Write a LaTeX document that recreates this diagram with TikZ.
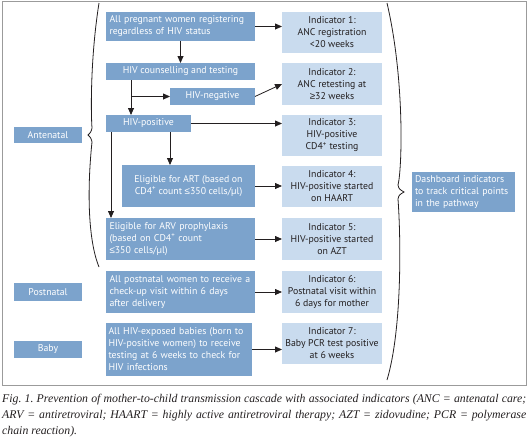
\documentclass[tikz,border=0pt]{standalone}
\usepackage{fontspec}
\setmainfont{Liberation Serif}
\newfontfamily\boxfont{PT Sans}
\newfontfamily\relfont{Liberation Sans}
\newcommand{\myle}{{\relfont ≤}}
\newcommand{\myge}{{\relfont ≥}}
\usetikzlibrary{arrows.meta}
\definecolor{darkbox}{RGB}{124,163,204}
\definecolor{lightbox}{RGB}{201,219,238}
\definecolor{ink}{RGB}{35,31,32}
\definecolor{framegray}{RGB}{155,155,155}
\frenchspacing
\begin{document}
\begin{tikzpicture}[x=1pt,y=-1pt,
  boxbase/.style={font=\boxfont\fontsize{9.8}{12}\selectfont, inner sep=0pt, outer sep=0pt},
  dark/.style={boxbase, fill=darkbox, text=white},
  light/.style={boxbase, fill=lightbox, text=ink, align=center, minimum width=100pt},
  arr/.style={draw=ink, line width=0.8pt, -{Triangle[length=7pt,width=6pt]}},
  bracestyle/.style={draw=ink, line width=0.8pt}]
\useasboundingbox (0,0) rectangle (528,442);
\draw[framegray, line width=0.9pt] (2,1) rectangle (526,385);

% left column labels
\node[dark, minimum width=68pt, minimum height=16pt] (ant) at (48,135) {Antenatal};
\node[dark, minimum width=68pt, minimum height=18pt] (pnl) at (48,292) {Postnatal};
\node[dark, minimum width=68pt, minimum height=17pt] (bbl) at (48,349.5) {Baby};

% cascade boxes
\node[dark, minimum width=149pt, minimum height=29pt, text width=142pt, align=left] (b1) at (180.5,26.5) {All pregnant women registering\\regardless of HIV status};
\node[dark, minimum width=149pt, minimum height=17pt] (b2) at (180.5,71.5) {HIV counselling and testing};
\node[dark, minimum width=85pt, minimum height=17pt] (neg) at (212.5,96.5) {HIV-negative};
\node[dark, minimum width=85pt, minimum height=17pt] (pos) at (148.5,123.5) {HIV-positive};
\node[dark, minimum width=133pt, minimum height=42pt, align=center] (art) at (188.5,186) {Eligible for ART (based on\\CD4\textsuperscript{+} count \myle350 cells/μl)};
\node[dark, minimum width=149pt, minimum height=42pt, text width=142pt, align=left] (arv) at (180.5,239) {Eligible for ARV prophylaxis\\(based on CD4\textsuperscript{+} count\\\myle350 cells/μl)};
\node[dark, minimum width=149pt, minimum height=42pt, text width=142pt, align=left] (post) at (180.5,292) {All postnatal women to receive a\\check-up visit within 6 days\\after delivery};
\node[dark, minimum width=146pt, minimum height=53pt, text width=141pt, align=left] (baby) at (179,349.5) {All HIV-exposed babies (born to\\HIV-positive women) to receive\\testing at 6 weeks to check for\\HIV infections};

% indicators
\node[light, minimum height=41pt] (i1) at (332,32.5) {Indicator 1:\\ANC registration\\<20 weeks};
\node[light, minimum height=42pt] (i2) at (332,84) {Indicator 2:\\ANC retesting at\\\myge32 weeks};
\node[light, minimum height=41pt] (i3) at (332,135.5) {Indicator 3:\\HIV-positive\\CD4\textsuperscript{+} testing};
\node[light, minimum height=41pt] (i4) at (332,186.5) {Indicator 4:\\HIV-positive started\\on HAART};
\node[light, minimum height=42pt] (i5) at (332,239) {Indicator 5:\\HIV-positive started\\on AZT};
\node[light, minimum height=42pt] (i6) at (332,292) {Indicator 6:\\Postnatal visit within\\6 days for mother};
\node[light, minimum height=41pt] (i7) at (332,343.5) {Indicator 7:\\Baby PCR test positive\\at 6 weeks};

% dashboard
\node[dark, minimum width=103pt, minimum height=40pt, text width=97pt, align=left] (dash) at (463.5,192) {Dashboard indicators\\to track critical points\\in the pathway};

% connectors
\draw[arr] (b1.south) -- (b2.north);
\draw[arr] (b1.east) -- (b1.east -| i1.west);
\draw[arr] ([xshift=25pt]b2.south west) -- ([xshift=25pt]b2.south west |- pos.north);
\draw[arr] ([xshift=25pt]b2.south west |- neg.west) -- (neg.west);
\draw[arr] (neg.east) -- (i2.west);
\draw[arr] (pos.east) -- (pos.east -| i3.west);
\draw[arr] ([xshift=-21pt]pos.south east) -- ([xshift=-21pt]pos.south east |- art.north);
\draw[arr] ([xshift=5pt]pos.south west) -- ([xshift=5pt]pos.south west |- arv.north);
\draw[arr] (art.east) -- (art.east -| i4.west);
\draw[arr] (arv.east) -- (arv.east -| i5.west);
\draw[arr] (post.east) -- (post.east -| i6.west);
\draw[arr] (baby.east) -- (baby.east -| i7.west);

% braces
\draw[bracestyle] (99,3) .. controls (90,60) and (91,115) .. (92,128) .. controls (91,132) .. (88,135) .. controls (91,138) .. (92,142) .. controls (87,190) and (88,240) .. (99,267);
\draw[bracestyle] (387,3) .. controls (405,80) and (402,170) .. (398,185) .. controls (399,189) .. (404,192) .. controls (399,195) .. (398,199) .. controls (401,240) and (402,330) .. (387,380);

% caption
\node[anchor=north west, inner sep=0pt, text width=524pt, align=justify, font=\itshape\fontsize{11.8}{16}\selectfont, text=ink] (cap) at (2,394) {Fig. 1. Prevention of mother-to-child transmission cascade with associated indicators (ANC = antenatal care;\linebreak ARV = antiretroviral; HAART = highly active antiretroviral therapy; AZT = zidovudine; PCR = polymerase\linebreak chain reaction).};
\end{tikzpicture}
\end{document}
